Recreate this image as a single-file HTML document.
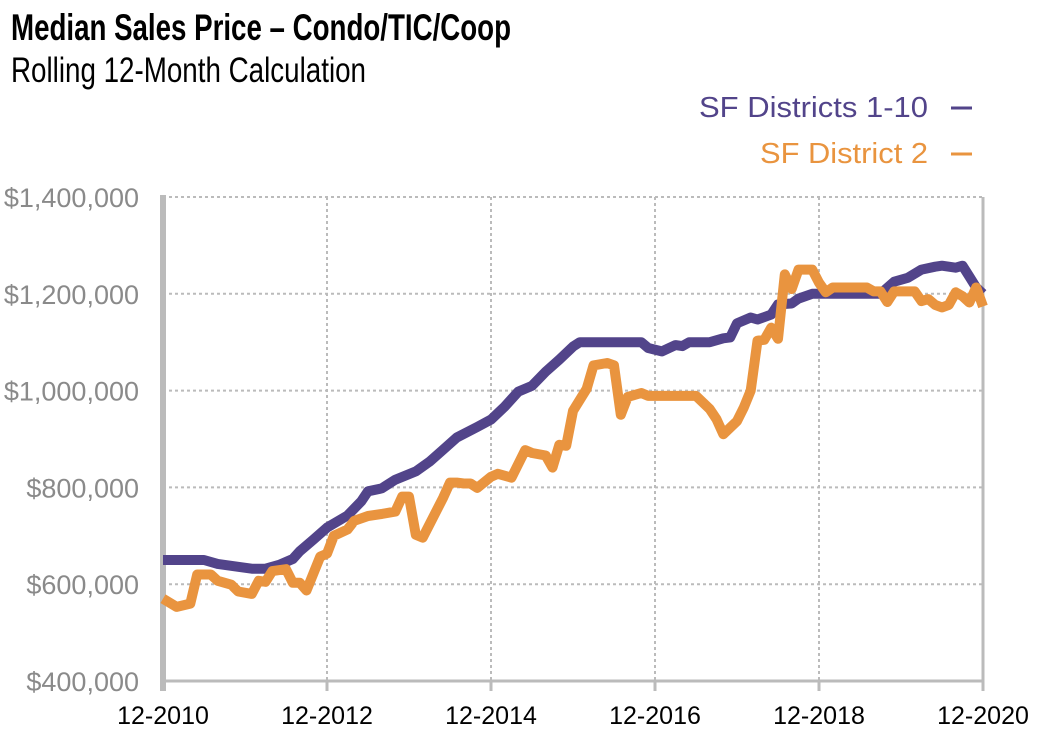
<!DOCTYPE html>
<html><head><meta charset="utf-8"><style>
html,body{margin:0;padding:0;background:#fff;width:1042px;height:734px;overflow:hidden}
svg{display:block}
</style></head><body>
<svg id="chart" width="1042" height="734" xmlns="http://www.w3.org/2000/svg" font-family="'Liberation Sans', sans-serif">
<text x="11" y="40" font-family="'Liberation Sans Narrow','Liberation Sans',sans-serif" font-weight="bold" font-size="37" textLength="500" lengthAdjust="spacingAndGlyphs">Median Sales Price – Condo/TIC/Coop</text>
<text x="11" y="82" font-family="'Liberation Sans Narrow','Liberation Sans',sans-serif" font-size="35" textLength="355" lengthAdjust="spacingAndGlyphs">Rolling 12-Month Calculation</text>
<g>
<text x="928" y="117" text-anchor="end" font-size="29" fill="#52448a" textLength="229" lengthAdjust="spacingAndGlyphs">SF Districts 1-10</text>
<line x1="951" y1="108" x2="972" y2="108" stroke="#52448a" stroke-width="3"/>
<text x="928" y="163" text-anchor="end" font-size="29" fill="#e9943f" textLength="168" lengthAdjust="spacingAndGlyphs">SF District 2</text>
<line x1="951" y1="154" x2="972" y2="154" stroke="#e9943f" stroke-width="3"/>
</g>
<g id="grid"></g>
<g id="axes"></g>
<g id="lines"></g>
</svg>
<script>
const yTicks = [400000, 600000, 800000, 1000000, 1200000, 1400000];
const yTickLabels = ["$400,000","$600,000","$800,000","$1,000,000","$1,200,000","$1,400,000"];
const xTickMonths = [0, 24, 48, 72, 96, 120];
const xTickLabels = ["12-2010","12-2012","12-2014","12-2016","12-2018","12-2020"];
const districtsMonths = [0,6,8,11,13,15,17,19,20,22,24,27,29,30,32,34,37,39,41,43,46,48,50,52,54,56,58,60,61,70,71,73,75,76,77,80,82,83,84,86,87,89,90,92,93,95,105,107,109,111,113,114,116,117,118,119,120];
const districtsValues = [650000,650000,642000,636000,632000,632000,640000,652000,668000,692000,717000,742000,771000,792000,798000,816000,833000,853000,878000,903000,925000,940000,967000,998000,1010000,1039000,1064000,1091000,1100000,1100000,1088000,1081000,1094000,1092000,1100000,1100000,1108000,1110000,1139000,1151000,1147000,1157000,1178000,1180000,1190000,1200000,1200000,1225000,1233000,1250000,1256000,1258000,1254000,1258000,1236000,1213000,1200000];
const d2Months = [0,2,4,5,7,8,10,11,13,14,15,16,18,19,20,21,23,24,25,27,28,30,32,34,35,36,37,38,41,42,43,44,45,46,48,49,51,53,54,56,57,58,59,60,62,63,65,66,67,68,70,71,78,80,81,82,84,85,86,87,88,89,90,91,92,93,95,96,97,98,103,104,105,106,107,110,111,112,113,114,115,116,117,118,119,120];
const d2Values = [570000,553000,560000,620000,620000,607000,599000,585000,580000,607000,605000,627000,631000,603000,603000,587000,657000,663000,700000,713000,731000,741000,745000,750000,781000,781000,702000,696000,779000,810000,810000,808000,808000,799000,822000,828000,820000,877000,871000,866000,841000,888000,886000,958000,1004000,1052000,1057000,1052000,950000,987000,995000,989000,989000,962000,941000,910000,937000,965000,1000000,1103000,1105000,1130000,1107000,1240000,1210000,1250000,1250000,1223000,1203000,1213000,1213000,1205000,1205000,1183000,1205000,1205000,1185000,1189000,1177000,1172000,1177000,1203000,1195000,1182000,1213000,1174000];

const NS='http://www.w3.org/2000/svg';
const X0=163, X1=983, Y0=681, Y1=197;
const xScale = m => X0 + (m/120)*(X1-X0);
const yScale = v => Y0 - (v-400000)/(1000000)*(Y0-Y1);
function mk(tag, attrs, parent){const e=document.createElementNS(NS,tag);for(const k in attrs)e.setAttribute(k,attrs[k]);parent.appendChild(e);return e;}
const grid=document.getElementById('grid'), axes=document.getElementById('axes'), lines=document.getElementById('lines');
yTicks.forEach((v,i)=>{
  if(i>0){const g=mk('line',{x1:X0,x2:X1,y1:yScale(v),y2:yScale(v),stroke:'#bbb','stroke-width':2,'stroke-dasharray':'3,3'},grid);
  
  }
  const t=mk('text',{x:139,y:yScale(v)+10,'text-anchor':'end','font-size':27,fill:'#8a8a8a'},axes);
  t.textContent=yTickLabels[i];
  
  
});
xTickMonths.forEach((m,i)=>{
  if(i>0&&i<xTickMonths.length-1){const g=mk('line',{x1:xScale(m),x2:xScale(m),y1:Y1,y2:Y0,stroke:'#bbb','stroke-width':2,'stroke-dasharray':'3,3'},grid);
  
  }
  const tk=mk('line',{x1:xScale(m),x2:xScale(m),y1:Y0,y2:Y0+10,stroke:'#bbb','stroke-width':3},axes);
  
  
  const t=mk('text',{x:xScale(m),y:724,'text-anchor':'middle','font-size':25,fill:'#000'},axes);
  t.textContent=xTickLabels[i];
  
  
});
const ra=mk('line',{x1:X1,x2:X1,y1:Y1,y2:Y0,stroke:'#bbb','stroke-width':3},axes);


const la=mk('line',{x1:X0,x2:X0,y1:Y1-2,y2:Y0+10,stroke:'#bbb','stroke-width':6},axes);


const ba=mk('line',{x1:X0,x2:X1,y1:Y0,y2:Y0,stroke:'#bbb','stroke-width':3},axes);


function series(ms,vs,color,name){
  const d=ms.map((m,i)=>(i?'L':'M')+xScale(m).toFixed(1)+','+yScale(vs[i]).toFixed(1)).join(' ');
  const p=mk('path',{d:d,fill:'none',stroke:color,'stroke-width':10,'stroke-linejoin':'round','stroke-linecap':'butt'},lines);
  
  
}
series(districtsMonths,districtsValues,'#52448a','line-sf-districts-1-10');
series(d2Months,d2Values,'#e9943f','line-sf-district-2');
</script>
</body></html>
